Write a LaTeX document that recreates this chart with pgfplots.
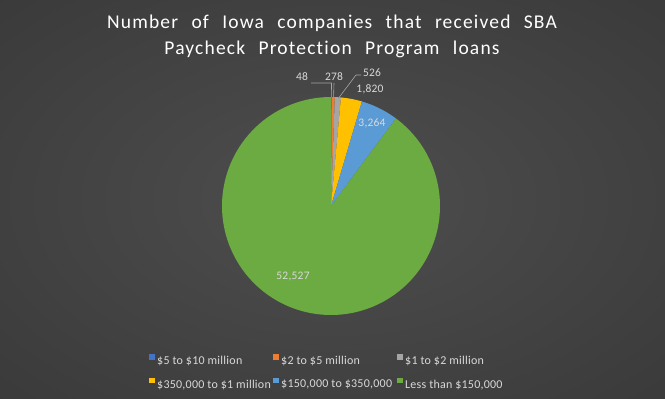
\documentclass[border=0pt]{standalone}
\usepackage{pgfplots}
\pgfplotsset{compat=1.18}
\usepackage{fontspec}
\setmainfont{Carlito}
\newfontfamily\titlefont[LetterSpace=6,WordSpace=2.4,Ligatures=NoCommon]{Carlito}
\newfontfamily\legfont[LetterSpace=2,Ligatures=NoCommon]{Carlito}
\definecolor{cA}{HTML}{4472C4}
\definecolor{cB}{HTML}{ED7D31}
\definecolor{cC}{HTML}{A5A5A5}
\definecolor{cD}{HTML}{FFC000}
\definecolor{cE}{HTML}{5B9BD5}
\definecolor{cF}{HTML}{6CAA42}
\definecolor{bgin}{HTML}{4E4E4E}
\definecolor{bgout}{HTML}{262626}
\definecolor{lbl}{HTML}{D9D9D9}
\definecolor{lead}{HTML}{A6A6A6}
\pgfdeclareradialshading{bgshade}{\pgfpoint{0bp}{0bp}}{color(0bp)=(bgin); color(72bp)=(bgout)}
\newcommand\legbox[1]{\makebox[113pt][l]{#1}}
% values
\def\vA{48}\def\vB{278}\def\vC{526}\def\vD{1820}\def\vE{3264}\def\vF{52527}
\edef\tot{\fpeval{\vA+\vB+\vC+\vD+\vE+\vF}}
\def\aA{0}
\edef\aB{\fpeval{round(360*(\vA)/\tot,4)}}
\edef\aC{\fpeval{round(360*(\vA+\vB)/\tot,4)}}
\edef\aD{\fpeval{round(360*(\vA+\vB+\vC)/\tot,4)}}
\edef\aE{\fpeval{round(360*(\vA+\vB+\vC+\vD)/\tot,4)}}
\edef\aF{\fpeval{round(360*(\vA+\vB+\vC+\vD+\vE)/\tot,4)}}
\def\aG{360}
\def\cx{331}\def\cy{206}\def\rr{109}
\begin{document}
\begin{tikzpicture}[x=1pt,y=1pt]
\shade[shading=bgshade] (0,0) rectangle (665,399);
\begin{axis}[at={(0,0)}, anchor=south west, scale only axis,
  width=665pt, height=399pt, xmin=0, xmax=665, ymin=0, ymax=399,
  y dir=reverse, hide axis, clip=false,
  legend image code/.code={\fill[#1, draw=none] (0pt,1.3pt) rectangle (5.5pt,6.8pt);},
  legend columns=3,
  legend cell align=left,
  legend style={at={(axis cs:149,354)}, anchor=north west, draw=none, fill=none,
    text=lbl, font=\legfont\fontsize{12}{14}\selectfont, row sep=12pt,
    inner sep=0pt, nodes={inner sep=0pt},
    /tikz/every even column/.append style={column sep=3pt},
    /tikz/every odd column/.append style={column sep=2.5pt}},
]
\addplot[forget plot, fill=cA, draw=none, domain=\aA:\aB, samples=5] ({\cx+\rr*sin(x)},{\cy-\rr*cos(x)}) -- (axis cs:\cx,\cy) -- cycle;
\addplot[forget plot, fill=cB, draw=none, domain=\aB:\aC, samples=5] ({\cx+\rr*sin(x)},{\cy-\rr*cos(x)}) -- (axis cs:\cx,\cy) -- cycle;
\addplot[forget plot, fill=cC, draw=none, domain=\aC:\aD, samples=5] ({\cx+\rr*sin(x)},{\cy-\rr*cos(x)}) -- (axis cs:\cx,\cy) -- cycle;
\addplot[forget plot, fill=cD, draw=none, domain=\aD:\aE, samples=20] ({\cx+\rr*sin(x)},{\cy-\rr*cos(x)}) -- (axis cs:\cx,\cy) -- cycle;
\addplot[forget plot, fill=cE, draw=none, domain=\aE:\aF, samples=30] ({\cx+\rr*sin(x)},{\cy-\rr*cos(x)}) -- (axis cs:\cx,\cy) -- cycle;
\addplot[forget plot, fill=cF, draw=none, domain=\aF:\aG, samples=200] ({\cx+\rr*sin(x)},{\cy-\rr*cos(x)}) -- (axis cs:\cx,\cy) -- cycle;
% leader lines
\draw[lead, line width=0.6pt] (axis cs:311,83) -- (axis cs:331.5,83) -- (axis cs:331.6,97);
\draw[lead, line width=0.6pt] (axis cs:334,83) -- (axis cs:333.6,97);
\draw[lead, line width=0.6pt] (axis cs:361,75) -- (axis cs:356,75) -- (axis cs:339,97.5);
% data labels
\begin{scope}[every node/.style={text=lbl, font=\legfont\fontsize{11.5}{13}\selectfont, inner sep=0pt}]
\node at (axis cs:302,77) {48};
\node at (axis cs:334,77) {278};
\node at (axis cs:372,73) {526};
\node at (axis cs:370,89) {1,820};
\node at (axis cs:372,123) {3,264};
\node at (axis cs:293,277) {52,527};
\end{scope}
\node[text=white, align=center, font=\titlefont\fontsize{19.5}{26}\selectfont, inner sep=0pt]
  at (axis cs:332,36) {Number of Iowa companies that received SBA\\Paycheck Protection Program loans};
\addlegendimage{fill=cA}\addlegendentry{\legbox{\$5 to \$10 million}}
\addlegendimage{fill=cB}\addlegendentry{\legbox{\$2 to \$5 million}}
\addlegendimage{fill=cC}\addlegendentry{\legbox{\$1 to \$2 million}}
\addlegendimage{fill=cD}\addlegendentry{\legbox{\$350,000 to \$1 million}}
\addlegendimage{fill=cE}\addlegendentry{\legbox{\$150,000 to \$350,000}}
\addlegendimage{fill=cF}\addlegendentry{\legbox{Less than \$150,000}}
\end{axis}
\end{tikzpicture}
\end{document}
